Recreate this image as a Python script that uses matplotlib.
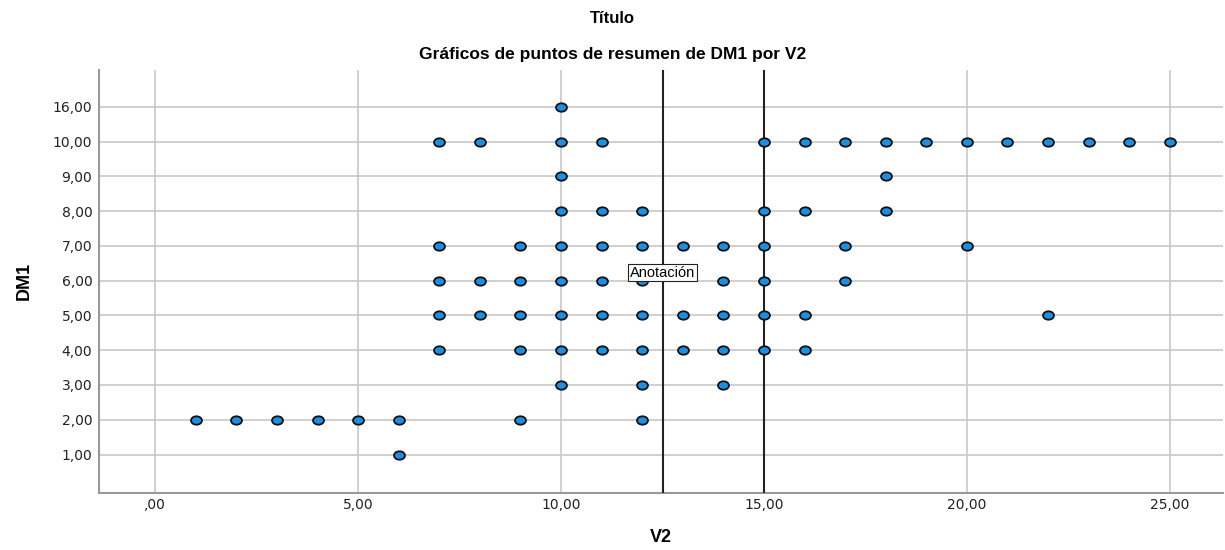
import matplotlib.pyplot as plt
from matplotlib.path import Path
from matplotlib.transforms import Affine2D

# Datos: categorías de DM1 (eje Y, espaciado uniforme) y valores de V2 por fila
dm1_cats = [1, 2, 3, 4, 5, 6, 7, 8, 9, 10, 16]
v2_por_dm1 = {
    16: [10],
    10: [7, 8, 10, 11, 15, 16, 17, 18, 19, 20, 21, 22, 23, 24, 25],
    9: [10, 18],
    8: [10, 11, 12, 15, 16, 18],
    7: [7, 9, 10, 11, 12, 13, 14, 15, 17, 20],
    6: [7, 8, 9, 10, 11, 12, 14, 15, 17],
    5: [7, 8, 9, 10, 11, 12, 13, 14, 15, 16, 22],
    4: [7, 9, 10, 11, 12, 13, 14, 15, 16],
    3: [10, 12, 14],
    2: [1, 2, 3, 4, 5, 6, 9, 12],
    1: [6],
}
x_ticks = [0, 5, 10, 15, 20, 25]
lineas_ref = [12.5, 15]

plt.rcParams['font.family'] = ['DejaVu Sans']

fig = plt.figure(figsize=(12.25, 5.5), dpi=100)
ax = fig.add_axes([0.081, 0.104, 0.917, 0.769])

# marcador elíptico
elipse = Path.unit_circle().transformed(Affine2D().scale(1.3, 1.0))

for i, cat in enumerate(dm1_cats):
    xs = v2_por_dm1[cat]
    ax.scatter(xs, [i] * len(xs), marker=elipse, s=62, color='#1a8fe3',
               edgecolor='#111111', linewidth=1.3, zorder=4)

for xv in lineas_ref:
    ax.axvline(xv, color='#222222', linewidth=1.5, zorder=3)

ax.text(12.5, 5.23, 'Anotación', ha='center', va='center', fontsize=10.5,
        family='Liberation Sans', zorder=6,
        bbox=dict(boxstyle='square,pad=0.12', facecolor='white', edgecolor='#222222', linewidth=0.8))

ax.set_xlim(-1.38, 26.3)
ax.set_ylim(-1.1, 11.06)
ax.set_xticks(x_ticks)
ax.set_xticklabels([',00' if v == 0 else f'{v:.2f}'.replace('.', ',') for v in x_ticks])
ax.set_yticks(range(len(dm1_cats)))
ax.set_yticklabels([f'{v:.2f}'.replace('.', ',') for v in dm1_cats])
ax.tick_params(length=0, labelsize=10, colors='#222222')
ax.tick_params(axis='x', pad=4)
ax.tick_params(axis='y', pad=5)
ax.grid(True, color='#c8c8c8', linewidth=1.2, zorder=0)
ax.set_axisbelow(True)

for s in ['top', 'right']:
    ax.spines[s].set_visible(False)
for s in ['left', 'bottom']:
    ax.spines[s].set_color('#999999')
    ax.spines[s].set_linewidth(1.5)

ax.set_xlabel('V2', fontsize=13, fontweight='bold', family='Liberation Sans', labelpad=12)
ax.set_ylabel('DM1', fontsize=13, fontweight='bold', family='Liberation Sans', labelpad=14)

fig.text(0.5, 0.966, 'Título', ha='center', va='center', fontsize=12,
         fontweight='bold', family='Liberation Sans')
fig.text(0.5, 0.9, 'Gráficos de puntos de resumen de DM1 por V2', ha='center', va='center',
         fontsize=12.5, fontweight='bold', family='Liberation Sans')

fig.savefig('out.png', dpi=100, facecolor='white')
